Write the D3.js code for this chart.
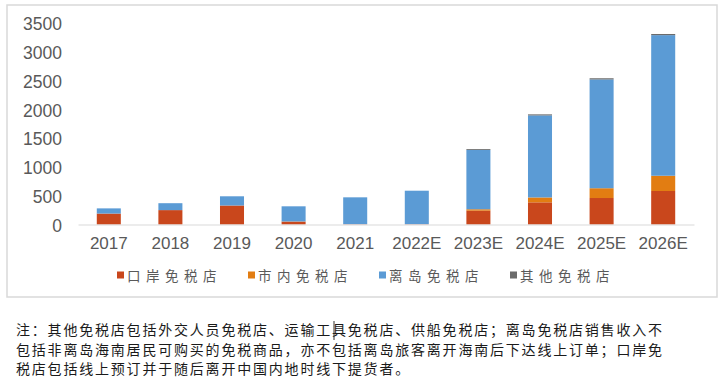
<!DOCTYPE html>
<html><head><meta charset="utf-8">
<script src="https://cdn.jsdelivr.net/npm/d3@7/dist/d3.min.js"></script>
<style>
html,body{margin:0;padding:0;background:#fff;}
svg{display:block;}
</style></head>
<body>
<svg id="c" width="720" height="379"></svg>
<script>
const categories = ["2017","2018","2019","2020","2021","2022E","2023E","2024E","2025E","2026E"];
const seriesNames = ["口岸免税店","市内免税店","离岛免税店","其他免税店"];
const portStores   = [190, 250, 330, 50, 5, 5, 240, 385, 460, 582];
const cityStores   = [0, 0, 0, 3, 0, 0, 25, 85, 170, 265];
const islandStores = [90, 120, 160, 263, 467, 582, 1030, 1425, 1890, 2442];
const otherStores  = [0, 0, 0, 0, 0, 0, 15, 18, 20, 20];
const yTicks = [0, 500, 1000, 1500, 2000, 2500, 3000, 3500];
const noteLines = [
  "注：其他免税店包括外交人员免税店、运输工具免税店、供船免税店；离岛免税店销售收入不",
  "包括非离岛海南居民可购买的免税商品，亦不包括离岛旅客离开海南后下达线上订单；口岸免",
  "税店包括线上预订并于随后离开中国内地时线下提货者。"
];
const colors = ["#C9471C", "#E27D12", "#5B9BD5", "#6B6B6B"];

const svg = d3.select("#c");
const seriesArrays = [portStores, cityStores, islandStores, otherStores];
const rows = categories.map((c, i) => {
  const r = {cat: c};
  seriesNames.forEach((s, j) => r[s] = seriesArrays[j][i]);
  return r;
});

// frame
svg.append("rect").attr("x", 7).attr("y", 5).attr("width", 710).attr("height", 292)
  .attr("fill", "none").attr("stroke", "#d9d9d9").attr("stroke-width", 1.5);

const x = d3.scaleBand().domain(categories).range([78, 694]).paddingInner(0.61).paddingOuter(0.305);
const y = d3.scaleLinear().domain([0, 3500]).range([224.5, 23]);

const stack = d3.stack().keys(seriesNames)(rows);
svg.append("g").selectAll("g").data(stack).join("g")
  .attr("fill", (d, i) => colors[i])
  .selectAll("rect").data(d => d).join("rect")
  .attr("x", d => x(d.data.cat))
  .attr("width", x.bandwidth())
  .attr("y", d => y(d[1]))
  .attr("height", d => Math.max(0, y(d[0]) - y(d[1])));

// x axis
const xAxis = svg.append("g").attr("transform", "translate(0,224.5)")
  .call(d3.axisBottom(x).tickSize(0).tickPadding(12));
xAxis.select(".domain").attr("stroke", "#d9d9d9").attr("stroke-width", 1.2);
xAxis.selectAll("text").attr("fill", "#595959")
  .style("font-family", "'Liberation Sans', Arial, sans-serif").style("font-size", "17px")
  .attr("dy", "0.71em");

// y axis
const yAxis = svg.append("g").attr("transform", "translate(62,0)")
  .call(d3.axisLeft(y).tickValues(yTicks).tickFormat(d3.format("d")).tickSize(0).tickPadding(0));
yAxis.select(".domain").remove();
yAxis.selectAll("text").attr("fill", "#595959")
  .style("font-family", "'Liberation Sans', Arial, sans-serif").style("font-size", "17.5px")
  .attr("dy", "0.38em");

// legend
const legX = [117, 248, 379, 510];
const leg = svg.append("g");
seriesNames.forEach((s, i) => {
  leg.append("rect").attr("x", legX[i]).attr("y", 271.5).attr("width", 7).attr("height", 7).attr("fill", colors[i]);
  leg.append("text").attr("x", legX[i] + 10).attr("y", 276).attr("dy", "0.35em")
    .attr("fill", "#595959").style("font-family", "'Noto Sans CJK SC', sans-serif")
    .style("font-size", "13.5px").style("letter-spacing", "5.5px").text(s);
});

// note
const note = svg.append("g");
noteLines.forEach((t, i) => {
  note.append("text").attr("x", 16).attr("y", 330 + i * 19.5).attr("dy", "0.36em")
    .attr("fill", "#1a1a1a").style("font-family", "'Noto Sans CJK SC', sans-serif")
    .style("font-size", "14px").style("letter-spacing", "1.8px").text(t);
});
// cursor artifact in source image
note.append("line").attr("x1", 334).attr("x2", 334).attr("y1", 321).attr("y2", 340)
  .attr("stroke", "#333").attr("stroke-width", 1);
</script>
</body></html>
